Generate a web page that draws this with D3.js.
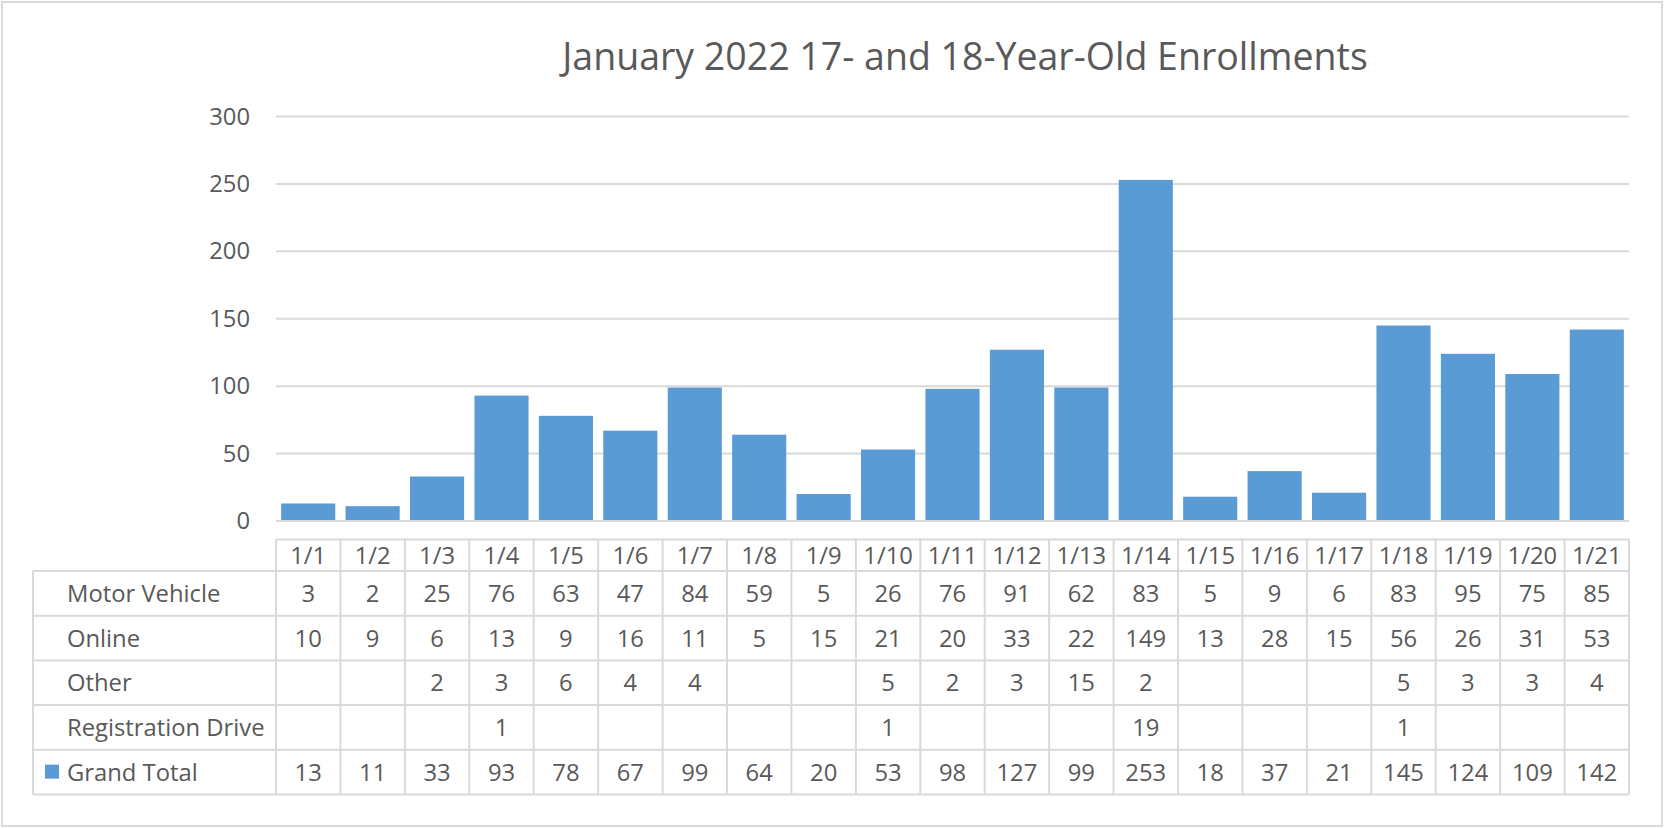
<!DOCTYPE html>
<html>
<head>
<meta charset="utf-8">
<script src="https://cdn.jsdelivr.net/npm/d3@7"></script>
<style>
  body { margin: 0; background: #fff; }
  svg text { font-family: "Segoe UI", "Open Sans", sans-serif; fill: #595959; }
</style>
</head>
<body>
<div id="chart"></div>
<script>
const dates = ["1/1","1/2","1/3","1/4","1/5","1/6","1/7","1/8","1/9","1/10","1/11",
  "1/12","1/13","1/14","1/15","1/16","1/17","1/18","1/19","1/20","1/21"];
const motorVehicle = [3,2,25,76,63,47,84,59,5,26,76,91,62,83,5,9,6,83,95,75,85];
const online = [10,9,6,13,9,16,11,5,15,21,20,33,22,149,13,28,15,56,26,31,53];
const other = [null,null,2,3,6,4,4,null,null,5,2,3,15,2,null,null,null,5,3,3,4];
const registrationDrive = [null,null,null,1,null,null,null,null,null,1,null,null,null,19,null,null,null,1,null,null,null];
const grandTotal = [13,11,33,93,78,67,99,64,20,53,98,127,99,253,18,37,21,145,124,109,142];
const yTicks = [0,50,100,150,200,250,300];

const rows = [
  { label: "Motor Vehicle", values: motorVehicle },
  { label: "Online", values: online },
  { label: "Other", values: other },
  { label: "Registration Drive", values: registrationDrive },
  { label: "Grand Total", values: grandTotal, key: true }
];

const W = 1664, H = 828;
const plot = { left: 276, right: 1629, top: 116.5, bottom: 521 };
const table = { left: 33, dateTop: 539.5, dateBottom: 571, rowH: 44.7 };
const barColor = "#5B9BD5";
const lineColor = "#D9D9D9";
const fontSize = "23.8px";

const svg = d3.select("#chart").append("svg")
  .attr("width", W)
  .attr("height", H);

// outer chart border
svg.append("rect")
  .attr("x", 2).attr("y", 2)
  .attr("width", W - 4).attr("height", H - 4)
  .attr("fill", "#fff")
  .attr("stroke", lineColor)
  .attr("stroke-width", 2);

svg.append("text")
  .attr("x", 965)
  .attr("y", 70)
  .attr("text-anchor", "middle")
  .style("font-size", "37.5px")
  .text("January 2022 17- and 18-Year-Old Enrollments");

const x = d3.scaleBand()
  .domain(dates)
  .range([plot.left, plot.right])
  .paddingInner(0.16)
  .paddingOuter(0.08);

const xCell = d3.scaleBand()
  .domain(dates)
  .range([plot.left, plot.right]);

const y = d3.scaleLinear()
  .domain([0, 300])
  .range([plot.bottom, plot.top]);

// gridlines
svg.append("g")
  .selectAll("line")
  .data(yTicks.filter(d => d > 0))
  .join("line")
  .attr("x1", plot.left)
  .attr("x2", plot.right)
  .attr("y1", d => y(d))
  .attr("y2", d => y(d))
  .attr("stroke", lineColor)
  .attr("stroke-width", 2);

// y axis labels
const yAxis = svg.append("g")
  .attr("transform", `translate(${plot.left},0)`)
  .call(d3.axisLeft(y).tickValues(yTicks).tickSize(0).tickPadding(26));
yAxis.select(".domain").remove();
yAxis.selectAll("text")
  .style("font-size", fontSize)
  .attr("fill", "#595959");

// bars
svg.append("g")
  .selectAll("rect")
  .data(dates.map((d, i) => ({ date: d, value: grandTotal[i] })))
  .join("rect")
  .attr("x", d => x(d.date))
  .attr("y", d => y(d.value))
  .attr("width", x.bandwidth())
  .attr("height", d => y(0) - y(d.value))
  .attr("fill", barColor);

// category axis line
svg.append("line")
  .attr("x1", plot.left)
  .attr("x2", plot.right)
  .attr("y1", y(0))
  .attr("y2", y(0))
  .attr("stroke", lineColor)
  .attr("stroke-width", 2);

// data table
const tg = svg.append("g");
const rowTop = i => table.dateBottom + i * table.rowH;
const tableBottom = rowTop(rows.length);

// horizontal lines
tg.append("line")
  .attr("x1", plot.left).attr("x2", plot.right)
  .attr("y1", table.dateTop).attr("y2", table.dateTop)
  .attr("stroke", lineColor).attr("stroke-width", 2);
tg.selectAll("line.hrow")
  .data(d3.range(rows.length + 1))
  .join("line")
  .attr("class", "hrow")
  .attr("x1", table.left).attr("x2", plot.right)
  .attr("y1", d => rowTop(d)).attr("y2", d => rowTop(d))
  .attr("stroke", lineColor).attr("stroke-width", 2);

// vertical lines
tg.append("line")
  .attr("x1", table.left).attr("x2", table.left)
  .attr("y1", table.dateBottom).attr("y2", tableBottom)
  .attr("stroke", lineColor).attr("stroke-width", 2);
tg.selectAll("line.vcol")
  .data(dates.concat(["end"]))
  .join("line")
  .attr("class", "vcol")
  .attr("x1", d => d === "end" ? plot.right : xCell(d))
  .attr("x2", d => d === "end" ? plot.right : xCell(d))
  .attr("y1", table.dateTop).attr("y2", tableBottom)
  .attr("stroke", lineColor).attr("stroke-width", 2);

// date labels
tg.selectAll("text.date")
  .data(dates)
  .join("text")
  .attr("class", "date")
  .attr("x", d => xCell(d) + xCell.bandwidth() / 2)
  .attr("y", (table.dateTop + table.dateBottom) / 2)
  .attr("text-anchor", "middle")
  .attr("dominant-baseline", "central")
  .style("font-size", fontSize)
  .text(d => d);

// row labels and values
rows.forEach((r, i) => {
  const cy = rowTop(i) + table.rowH / 2 - 0.5;
  tg.append("text")
    .attr("x", 67)
    .attr("y", cy)
    .attr("dominant-baseline", "central")
    .style("font-size", fontSize)
    .text(r.label);
  if (r.key) {
    tg.append("rect")
      .attr("x", 45).attr("y", cy - 7)
      .attr("width", 14).attr("height", 14)
      .attr("fill", barColor);
  }
  tg.selectAll(`text.v${i}`)
    .data(r.values.map((v, j) => ({ date: dates[j], v })).filter(d => d.v !== null))
    .join("text")
    .attr("class", `v${i}`)
    .attr("x", d => xCell(d.date) + xCell.bandwidth() / 2)
    .attr("y", cy)
    .attr("text-anchor", "middle")
    .attr("dominant-baseline", "central")
    .style("font-size", fontSize)
    .text(d => d.v);
});
</script>
</body>
</html>
